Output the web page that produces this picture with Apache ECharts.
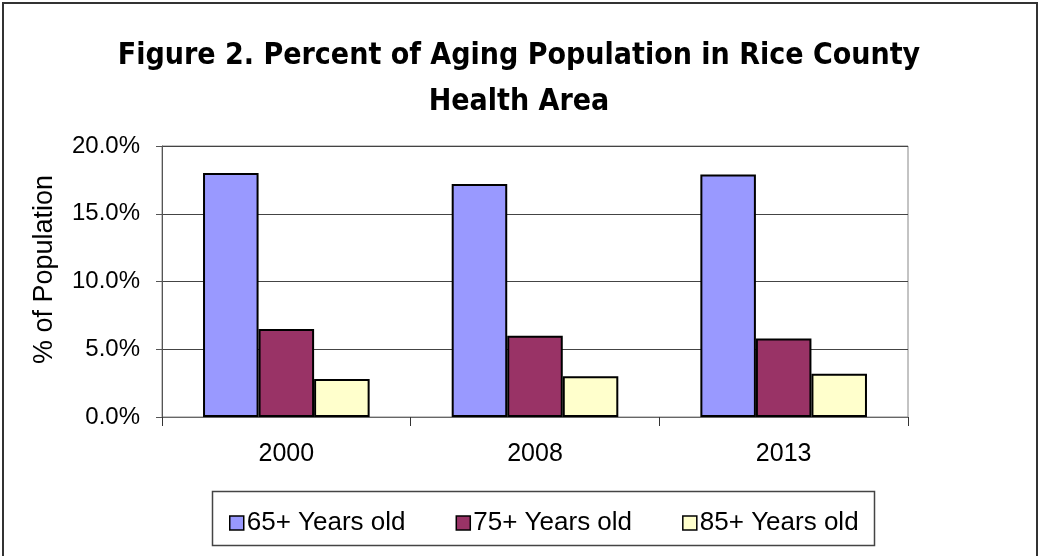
<!DOCTYPE html>
<html>
<head>
<meta charset="utf-8">
<script src="https://cdn.jsdelivr.net/npm/echarts@6/dist/echarts.min.js"></script>
<style>
  html, body { margin: 0; padding: 0; background: #fff; }
  #main { width: 1038px; height: 556px; }
</style>
</head>
<body>
<div id="main"></div>
<script>
// data
var years = ['2000', '2008', '2013'];
var seriesNames = ['65+ Years old', '75+ Years old', '85+ Years old'];
var age65 = [18.0, 17.2, 17.9];
var age75 = [6.5, 6.0, 5.8];
var age85 = [2.8, 3.0, 3.2];
var yTicks = [0, 5, 10, 15, 20];

var colors = ['#9999FF', '#993366', '#FFFFCC'];
var bodyFont = '"Liberation Sans", Arial, sans-serif';

var myChart = echarts.init(document.getElementById('main'));

function barSeries(name, data, color) {
    return {
        name: name,
        type: 'bar',
        data: data,
        barGap: '0%',
        barCategoryGap: '33%',
        itemStyle: { color: color, borderColor: '#000', borderWidth: 2 }
    };
}

var option = {
    backgroundColor: '#fff',
    animation: false,
    title: {
        text: 'Figure 2. Percent of Aging Population in Rice County\nHealth Area',
        left: 'center',
        top: 28,
        textStyle: {
            fontFamily: '"Liberation Sans Narrow", "DejaVu Sans Condensed", sans-serif',
            fontWeight: 'bold',
            fontSize: 30,
            lineHeight: 46,
            color: '#000'
        }
    },
    legend: {
        data: seriesNames,
        left: 224,
        top: 505,
        itemWidth: 14,
        itemHeight: 14,
        itemGap: 50,
        icon: 'rect',
        itemStyle: { borderColor: '#000', borderWidth: 1.5 },
        textStyle: { fontFamily: bodyFont, fontSize: 26, color: '#000', padding: [0, 0, 0, -2] }
    },
    grid: {
        left: 162,
        right: 130,
        top: 146,
        bottom: 139,
        show: true,
        borderColor: '#888',
        borderWidth: 1
    },
    xAxis: {
        type: 'category',
        data: years,
        axisLine: { lineStyle: { color: '#666', width: 1 } },
        axisTick: { show: true, alignWithLabel: false, length: 9, lineStyle: { color: '#333' } },
        axisLabel: { margin: 25, fontFamily: bodyFont, fontSize: 25, color: '#000' }
    },
    yAxis: {
        type: 'value',
        min: yTicks[0],
        max: yTicks[yTicks.length - 1],
        interval: 5,
        name: '% of Population',
        nameLocation: 'middle',
        nameGap: 104,
        nameRotate: 90,
        nameTextStyle: { fontFamily: bodyFont, fontSize: 27, color: '#000', padding: [0, 0, 0, 24] },
        axisLine: { show: true, lineStyle: { color: '#555', width: 1 } },
        axisTick: { show: true, inside: false, length: 6, lineStyle: { color: '#555' } },
        axisLabel: {
            margin: 22,
            fontFamily: bodyFont,
            fontSize: 24,
            color: '#000',
            formatter: function (v) { return v.toFixed(1) + '%'; }
        },
        splitLine: { show: true, lineStyle: { color: '#444', width: 1 } }
    },
    series: [
        barSeries(seriesNames[0], age65, colors[0]),
        barSeries(seriesNames[1], age75, colors[1]),
        barSeries(seriesNames[2], age85, colors[2])
    ],
    graphic: [
        {
            type: 'rect',
            shape: { x: 3, y: 3, width: 1034, height: 570 },
            style: { fill: 'none', stroke: '#333', lineWidth: 2 },
            silent: true
        },
        {
            type: 'rect',
            shape: { x: 212.5, y: 491.5, width: 662, height: 54 },
            style: { fill: 'none', stroke: '#444', lineWidth: 1.5 },
            silent: true
        }
    ]
};

myChart.setOption(option);
</script>
</body>
</html>
